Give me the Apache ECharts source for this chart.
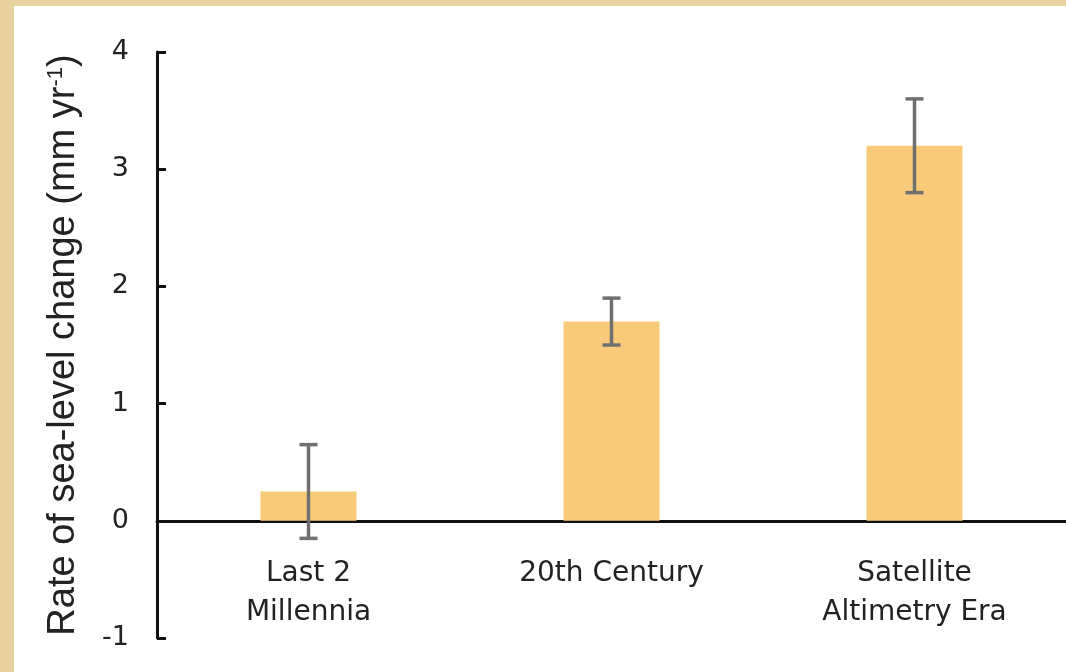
<!DOCTYPE html>
<html>
<head>
<meta charset="utf-8">
<script src="https://cdn.jsdelivr.net/npm/echarts@6/dist/echarts.min.js"></script>
<style>
  html, body { margin: 0; padding: 0; }
  #chart { width: 1066px; height: 672px; }
</style>
</head>
<body>
<div id="chart"></div>
<script>
const categories = ['Last 2\nMillennia', '20th Century', 'Satellite\nAltimetry Era']
const rates = [0.25, 1.7, 3.2]
const errLow = [-0.15, 1.5, 2.8]
const errHigh = [0.65, 1.9, 3.6]
const yTicks = [-1, 0, 1, 2, 3, 4]

const font = 'Liberation Sans, Arial, Helvetica, sans-serif'
const wideFont = 'DejaVu Sans, Liberation Sans, sans-serif'

const chart = echarts.init(document.getElementById('chart'))

chart.setOption({
  backgroundColor: '#e8d2a0',
  animation: false,
  graphic: [{
    type: 'rect',
    z: -10,
    shape: { x: 14, y: 6, width: 1052, height: 666 },
    style: { fill: '#ffffff' }
  }],
  grid: { left: 157, right: 0, top: 52, bottom: 34, outerBoundsMode: 'none', containLabel: false },
  xAxis: {
    type: 'category',
    data: categories,
    axisLine: { onZero: true, lineStyle: { color: '#111', width: 3 } },
    axisTick: { show: false },
    axisLabel: {
      interval: 0,
      hideOverlap: false,
      color: '#222', fontSize: 28, fontFamily: wideFont,
      // labels are laid out from the grid bottom, pull them up under the zero line
      margin: -84, lineHeight: 39
    }
  },
  yAxis: {
    type: 'value',
    min: -1, max: 4, interval: 1,
    splitLine: { show: false },
    axisLine: { show: true, lineStyle: { color: '#111', width: 3 } },
    axisTick: { show: true, inside: true, length: 9, lineStyle: { color: '#111', width: 3 } },
    axisLabel: {
      color: '#222', fontSize: 27, fontFamily: wideFont, margin: 28,
      formatter: v => yTicks.includes(v) ? String(v) : ''
    },
    name: '{a|Rate of sea-level change (mm yr}{s|-1}{a|)}',
    nameLocation: 'middle',
    nameRotate: 90,
    nameGap: 74,
    nameTextStyle: {
      rich: {
        a: { color: '#222', fontSize: 38, fontFamily: font },
        s: { color: '#222', fontSize: 22, fontFamily: font, padding: [0, 0, 16, 0] }
      }
    }
  },
  series: [
    {
      type: 'bar',
      data: rates,
      barWidth: 96,
      itemStyle: { color: '#f9ca7a' },
      z: 1
    },
    {
      type: 'custom',
      z: 3,
      data: categories.map((c, i) => [i, errLow[i], errHigh[i]]),
      renderItem(params, api) {
        const lo = api.coord([api.value(0), api.value(1)])
        const hi = api.coord([api.value(0), api.value(2)])
        const half = 9
        const style = { stroke: '#707070', lineWidth: 3.5 }
        return {
          type: 'group',
          children: [
            { type: 'line', shape: { x1: lo[0], y1: lo[1], x2: hi[0], y2: hi[1] }, style },
            { type: 'line', shape: { x1: hi[0] - half, y1: hi[1], x2: hi[0] + half, y2: hi[1] }, style },
            { type: 'line', shape: { x1: lo[0] - half, y1: lo[1], x2: lo[0] + half, y2: lo[1] }, style }
          ]
        }
      }
    }
  ]
})
</script>
</body>
</html>
